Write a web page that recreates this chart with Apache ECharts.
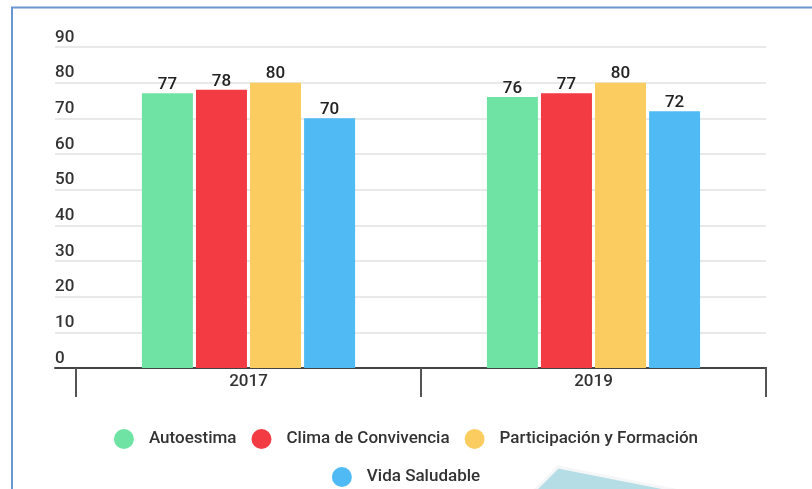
<!DOCTYPE html>
<html>
<head>
<meta charset="utf-8">
<script src="https://cdn.jsdelivr.net/npm/echarts@6/dist/echarts.min.js"></script>
<style>
  html, body { margin: 0; padding: 0; background: #fff; }
  #chart { width: 812px; height: 489px; }
</style>
</head>
<body>
<div id="chart"></div>
<script>
const years = ['2017', '2019']
const seriesNames = ['Autoestima', 'Clima de Convivencia', 'Participación y Formación', 'Vida Saludable']
const autoestima = [77, 76]
const climaConvivencia = [78, 77]
const participacion = [80, 80]
const vidaSaludable = [70, 72]
const yTicks = { min: 0, max: 90, interval: 10 }
const colors = ['#6ee3a4', '#f23b43', '#fbcd60', '#4fbaf4']

const values = [autoestima, climaConvivencia, participacion, vidaSaludable]
const font = 'Roboto, "Noto Sans", sans-serif'

const chart = echarts.init(document.getElementById('chart'))

const legendBase = {
  left: 'center',
  icon: 'circle',
  itemWidth: 22,
  itemHeight: 20,
  itemGap: 15,
  textStyle: { color: '#333', fontSize: 17, fontWeight: 500, fontFamily: font, padding: [4, 0, 4, 9], lineHeight: 16 }
}

chart.setOption({
  animation: false,
  color: colors,
  textStyle: { fontFamily: font },
  graphic: [
    // frame
    { type: 'polyline', shape: { points: [[12, 489], [12, 7.5], [812, 7.5]] },
      style: { stroke: '#6a96d2', lineWidth: 2, fill: null }, z: 0 },
    // decoration in the corner
    { type: 'polygon', shape: { points: [[558, 467], [700, 495], [530, 495]] },
      style: { fill: '#b5dde6', stroke: '#f4f6f7', lineWidth: 3 }, z: 0 }
  ],
  grid: [
    { left: 55, right: 46, top: 47, bottom: 121 },
    { left: 76, right: 46, top: 47, bottom: 121 }
  ],
  legend: [
    Object.assign({ top: 422, data: seriesNames.slice(0, 3) }, legendBase),
    Object.assign({ top: 460, data: seriesNames.slice(3) }, legendBase)
  ],
  xAxis: [
    { gridIndex: 0, type: 'category', data: [''],
      axisLine: { lineStyle: { color: '#444', width: 2 } },
      axisTick: { show: false }, axisLabel: { show: false } },
    { gridIndex: 1, type: 'category', data: years,
      axisLine: { lineStyle: { color: '#444', width: 2 } },
      axisTick: { show: true, length: 29, lineStyle: { color: '#555', width: 2 } },
      axisLabel: { color: '#333', fontSize: 17, fontWeight: 500, margin: 5 } }
  ],
  yAxis: [
    { gridIndex: 0, type: 'value', min: yTicks.min, max: yTicks.max, interval: yTicks.interval,
      axisLine: { show: false }, axisTick: { show: false },
      splitLine: { lineStyle: { color: '#e2e2e2', width: 1.5 } },
      axisLabel: { color: '#333', fontSize: 17, fontWeight: 500, align: 'left', margin: 0,
        verticalAlign: 'bottom', padding: [0, 0, 1, 0] } },
    { gridIndex: 1, type: 'value', min: yTicks.min, max: yTicks.max, interval: yTicks.interval,
      show: false, splitLine: { show: false } }
  ],
  series: seriesNames.map((name, i) => ({
    name: name,
    type: 'bar',
    xAxisIndex: 1,
    yAxisIndex: 1,
    data: values[i],
    barWidth: 51,
    barGap: '6%',
    itemStyle: { color: colors[i] },
    label: { show: true, position: 'top', distance: 0, color: '#222', fontSize: 17, fontWeight: 500 }
  }))
})
</script>
</body>
</html>
